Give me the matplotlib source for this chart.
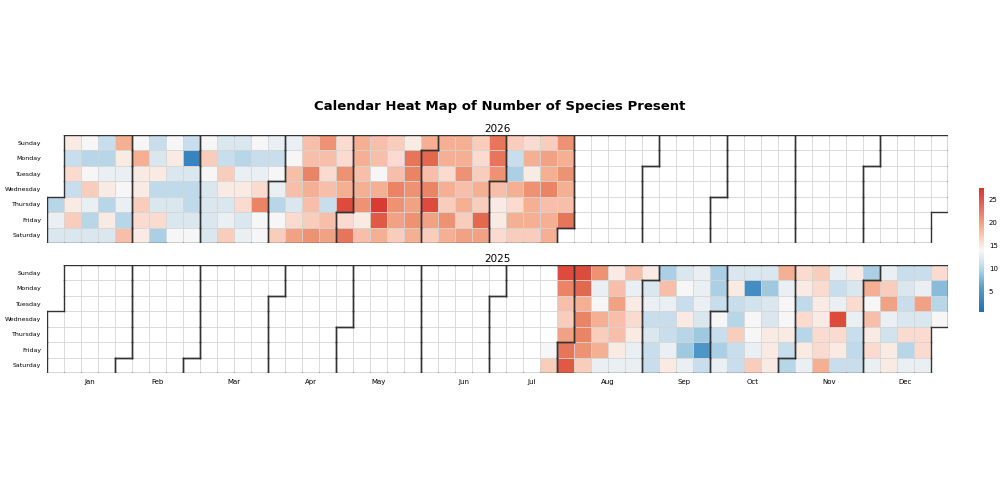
import datetime as dt
import numpy as np
import matplotlib
matplotlib.use("Agg")
import matplotlib.pyplot as plt
from matplotlib.colors import Normalize, LinearSegmentedColormap

N = np.nan
days = ["Sunday", "Monday", "Tuesday", "Wednesday", "Thursday", "Friday", "Saturday"]
months = ["Jan", "Feb", "Mar", "Apr", "May", "Jun", "Jul", "Aug", "Sep", "Oct", "Nov", "Dec"]

# 2026: week columns 0..30 (Sun..Sat rows)
y2026_sun = [N, 15, 14, 11, 19, 14, 11, 14, 11, 14, 12, 12, 14, 13, 13, 18, 21, 16, 19, 18, 17, 15, 19, 19, 19, 17, 23, 17, 16, 17, 21]
y2026_mon = [N, 11, 10, 10, 15, 19, 12, 15, 3, 17, 11, 10, 11, 11, 14, 18, 18, 16, 19, 18, 16, 23, 24, 19, 19, 16, 23, 11, 19, 20, 19]
y2026_tue = [N, 16, 14, 13, 13, 15, 15, 12, 12, 14, 17, 13, 13, 14, 18, 22, 16, 21, 18, 14, 18, 22, 18, 16, 21, 17, 21, 9.5, 15, 19, 21]
y2026_wed = [N, 11, 17, 15, 14, 15, 10.5, 10.5, 10.5, 12, 15, 15, 16, 13, 18, 19, 18, 19, 19, 19, 22, 21, 22, 19, 18, 19, 18, 19, 21, 22, 19]
y2026_thu = [10, 15, 13, 10, 13, 17, 12, 12, 10.5, 12, 12, 16, 22, 10, 12, 18, 11, 26, 21, 27, 21, 20, 26, 17, 19, 17, 15, 16, 19, 18, 18]
y2026_fri = [13, 17, 10, 15, 10, 16, 16, 12, 12, 12, 13, 12, 14, 14, 16, 17, 18, 16, 15, 25, 20, 21, 20, 21, 17, 24, 15, 19, 19, 19, 23]
y2026_sat = [12, 12, 12, 12, 18, 15, 9.5, 14, 14, 12, 17, 13, 14, 17, 20, 21, 20, 23, 18, 19, 17, 19, 17, 19, 20, 20, 16, 17, 17, 19, N]

# 2025: week columns 29..52
y2025_sun = [N, 26, 26, 21, 15, 18, 15, 9.5, 12, 13, 9.5, 12, 12, 12, 19, 16, 17, 13, 15, 9.5, 13, 11, 11, 16]
y2025_mon = [N, 22, 24, 13, 18, 13, 12, 18, 14, 13, 9.5, 15, 4, 9, 13, 15, 16, 11, 12, 19, 17, 12, 13, 8]
y2025_tue = [N, 18, 19, 14, 20, 15, 13, 13, 11, 13, 11, 11, 11.5, 12, 14, 10.5, 15, 13, 16, 14, 20, 11, 20, 10]
y2025_wed = [N, 17, 22, 19, 18, 16, 11, 11, 15, 12, 14, 10, 14, 12, 14, 16, 15, 26, 13, 18, 13, 12, 12, 14]
y2025_thu = [N, 20, 22, 17, 18, 15, 12, 11, 10, 9, 11, 17, 14, 15, 15, 10, 16, 16, 11, 15, 11.5, 16, 16, N]
y2025_fri = [14, 23, 21, 19, 15, 13, 11, 13, 9, 5, 9.5, 11, 13, 15, 11, 15, 16, 15, 10.5, 16, 15, 10, 16, N]
y2025_sat = [17, 25, 17, 13, 13, 13, 11, 15, 13, 11, 13, 11, 17, 15, 10, 13, 19, 11, 11, 13, 15, 13, 13, N]

data = {
    2026: (0, [y2026_sun, y2026_mon, y2026_tue, y2026_wed, y2026_thu, y2026_fri, y2026_sat]),
    2025: (29, [y2025_sun, y2025_mon, y2025_tue, y2025_wed, y2025_thu, y2025_fri, y2025_sat]),
}

vmin, vmax = 0.6, 27.6
anchors = [(1, "#1f70b0"), (6, "#5a9fcc"), (10, "#b7d6e8"), (12.5, "#e2ebf1"), (14, "#f7f7f7"),
           (16, "#fbdcd0"), (19, "#f5b094"), (22, "#ea8465"), (27.6, "#d6352b")]
cmap = LinearSegmentedColormap.from_list(
    "rb", [((v - vmin) / (vmax - vmin) if v > vmin else 0.0, c) for v, c in [(vmin, "#1f70b0")] + anchors[1:]])
norm = Normalize(vmin, vmax)

fig = plt.figure(figsize=(10, 5), dpi=100)
fig.text(0.5, 0.78, "Calendar Heat Map of Number of Species Present", ha="center",
         fontsize=9.5, fontweight="bold")

def cal_cells(year):
    d0 = dt.date(year, 1, 1)
    off = (d0.weekday() + 1) % 7  # Sunday=0
    cells = {}
    d = d0
    while d.year == year:
        i = (d - d0).days + off
        cells[(i // 7, i % 7)] = d.month
        d += dt.timedelta(days=1)
    return cells

for year, bottom in [(2026, 0.514), (2025, 0.254)]:
    ax = fig.add_axes([0.047, bottom, 0.901, 0.216])
    cells = cal_cells(year)
    start, rows = data[year]
    vals = {}
    for r, row in enumerate(rows):
        for k, v in enumerate(row):
            if not np.isnan(v):
                vals[(start + k, r)] = v
    for (c, r), m in cells.items():
        v = vals.get((c, r))
        fc = cmap(norm(v)) if v is not None else "white"
        ax.add_patch(plt.Rectangle((c, r), 1, 1, facecolor=fc, edgecolor="#d4d4d4", lw=0.5))
    segs = []
    for (c, r), m in cells.items():
        for (dc, dr, seg) in [(-1, 0, [(c, r), (c, r + 1)]), (1, 0, [(c + 1, r), (c + 1, r + 1)]),
                              (0, -1, [(c, r), (c + 1, r)]), (0, 1, [(c, r + 1), (c + 1, r + 1)])]:
            if cells.get((c + dc, r + dr)) != m:
                segs.append(seg)
    for seg in segs:
        ax.plot([seg[0][0], seg[1][0]], [seg[0][1], seg[1][1]], color="#333333", lw=1.0,
                solid_capstyle="projecting")
    ax.set_xlim(0, 53)
    ax.set_ylim(7, 0)
    ax.set_yticks(np.arange(7) + 0.5)
    ax.set_yticklabels(days, fontsize=4.5)
    ax.tick_params(length=0, pad=4)
    for s in ax.spines.values():
        s.set_visible(False)
    ax.set_title(str(year), fontsize=7.5, pad=2)
    if year == 2025:
        pos = []
        for m in range(1, 13):
            cs = [c for (c, r), mm in cells.items() if mm == m]
            pos.append((min(cs) + max(cs) + 1) / 2)
        ax.set_xticks(pos)
        ax.set_xticklabels(months, fontsize=5)
    else:
        ax.set_xticks([])

cax = fig.add_axes([0.979, 0.376, 0.005, 0.248])
sm = matplotlib.cm.ScalarMappable(norm=norm, cmap=cmap)
cb = fig.colorbar(sm, cax=cax, ticks=[5, 10, 15, 20, 25])
cb.outline.set_visible(False)
cb.ax.tick_params(labelsize=5, length=0)

fig.savefig("out.png", dpi=100)
